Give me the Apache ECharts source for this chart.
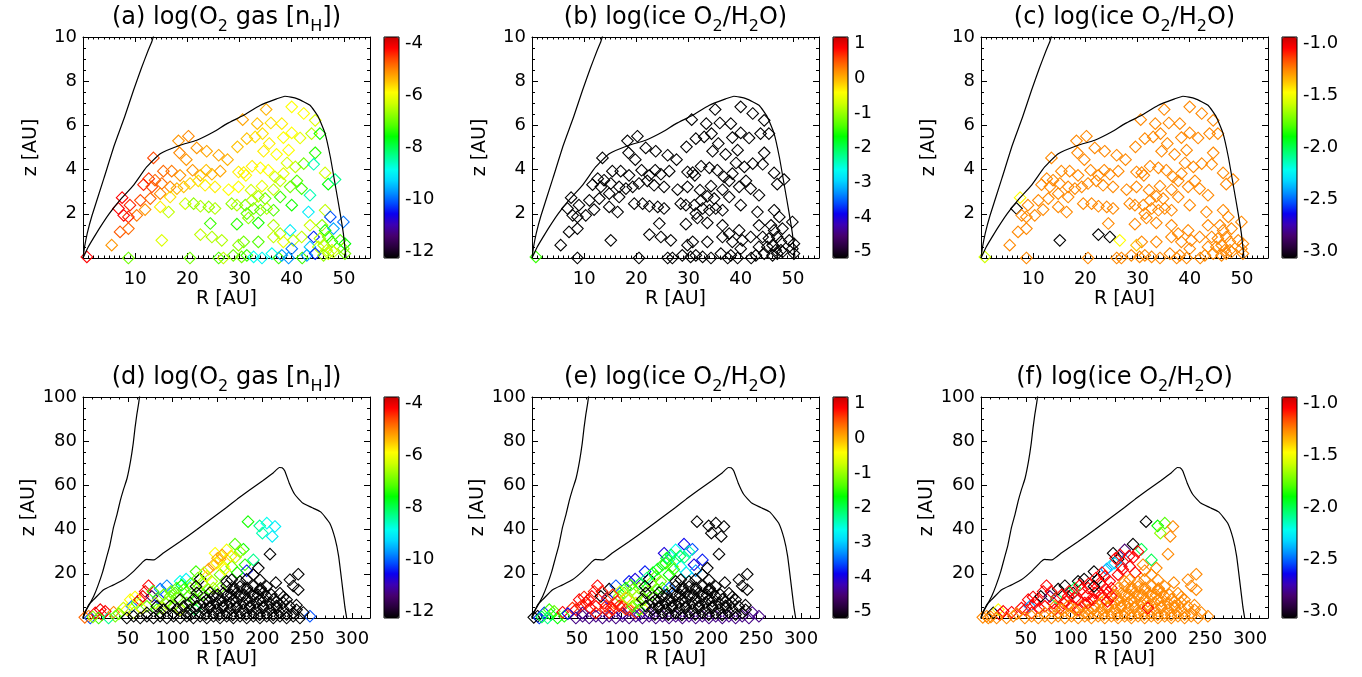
<!DOCTYPE html>
<html>
<head>
<meta charset="utf-8">
<title>O2 gas and ice</title>
<script src="https://cdn.jsdelivr.net/npm/echarts@6.0.0/dist/echarts.min.js"></script>
<style>
  html, body { margin: 0; padding: 0; background: #fff; }
  #chart { width: 1362px; height: 677px; }
</style>
</head>
<body>
<div id="chart"></div>
<script>
// ---- data: top row (inner disk, R < 55 AU) ----
var topPoints = [
  [35.1,6.72],[40.0,6.84],[42.3,6.54],[44.5,6.23],[30.6,6.26],[33.4,6.08],[36.0,6.11],[38.1,6.08],[20.2,5.51],[18.3,5.30],
  [31.4,5.40],[33.0,5.48],[34.4,5.63],[40.0,5.66],[38.4,5.45],[41.6,5.43],[43.8,5.63],[45.4,5.63],[21.8,4.98],[23.7,4.83],
  [18.5,4.76],[19.8,4.45],[26.0,4.65],[27.7,4.45],[29.6,5.03],[35.7,5.18],[34.6,4.83],[37.1,4.69],[39.4,4.88],[44.5,4.76],
  [13.5,4.53],[15.4,3.93],[17.0,3.93],[18.6,3.74],[21.0,3.97],[22.5,3.74],[23.6,3.97],[24.7,3.79],[26.3,3.93],[29.8,3.89],
  [31.2,3.74],[32.4,4.15],[34.0,4.08],[35.5,3.97],[36.8,3.67],[39.1,4.30],[40.7,4.12],[42.3,4.27],[44.2,4.24],[46.4,3.85],
  [38.4,3.82],[12.6,3.59],[30.8,3.86],[11.6,3.32],[13.2,3.22],[15.1,3.37],[16.7,3.22],[18.0,3.14],[19.3,3.22],[20.5,3.37],
  [22.1,3.49],[23.4,3.29],[25.3,3.22],[27.9,3.09],[29.8,3.22],[32.2,3.07],[34.3,3.25],[36.5,3.09],[37.8,3.49],[39.7,3.22],
  [41.0,3.49],[41.9,3.14],[47.0,3.34],[48.3,3.55],[13.8,3.52],[7.5,2.73],[6.8,2.24],[9.0,2.39],[11.0,2.61],[12.9,2.69],
  [14.8,2.91],[16.7,2.76],[14.8,2.31],[16.4,2.08],[11.9,2.19],[10.3,1.93],[7.8,1.93],[8.7,1.86],[19.6,2.46],[21.2,2.46],
  [22.5,2.34],[24.1,2.31],[25.3,2.24],[28.5,2.46],[29.5,2.39],[31.1,2.39],[32.4,2.61],[33.6,2.79],[34.9,2.69],[37.8,2.76],
  [40.0,2.39],[43.5,2.84],[32.7,2.24],[34.0,2.16],[35.2,2.24],[36.5,2.16],[31.4,2.01],[31.7,1.81],[43.2,2.08],[46.4,2.16],
  [47.4,1.86],[24.4,1.56],[29.5,1.53],[33.6,1.59],[7.1,1.18],[8.7,1.33],[36.5,1.48],[43.5,1.48],[45.8,1.48],[48.0,1.33],
  [49.9,1.63],[39.7,1.25],[37.8,1.10],[46.4,1.25],[5.5,0.58],[15.1,0.80],[22.5,1.06],[24.7,0.95],[26.6,0.80],[30.8,0.73],
  [33.6,0.73],[29.8,0.58],[36.5,0.95],[38.4,0.73],[40.3,0.80],[41.9,0.95],[44.2,0.95],[45.4,0.88],[47.0,0.95],[47.7,0.73],
  [49.3,0.80],[50.2,0.65],[43.5,0.50],[45.1,0.50],[46.7,0.35],[48.0,0.27],[49.9,0.42],[40.0,0.42],[46.1,0.58],[0.74,0.05],
  [8.7,0.0],[20.5,0.0],[26.0,0.0],[26.9,0.0],[28.8,0.12],[30.4,0.05],[31.4,0.12],[32.7,0.05],[34.3,0.0],[36.2,0.2],
  [37.5,0.0],[38.1,0.12],[39.4,0.0],[42.0,0.0],[42.9,0.12],[44.5,0.2],[46.1,0.12],[47.0,0.2],[47.7,0.35],[50.2,0.2]
];
// (a) log O2 gas
var topGas = [
  -5.5,-6.0,-6.0,-6.3,-5.4,-5.6,-5.8,-5.9,-5.2,-5.3,
  -5.6,-5.8,-5.8,-6.0,-6.0,-6.2,-6.5,-7.5,-5.3,-5.4,
  -5.2,-5.3,-5.4,-5.5,-5.6,-5.9,-5.9,-6.0,-6.0,-7.4,
  -4.8,-5.0,-5.1,-5.3,-5.3,-5.5,-5.6,-5.5,-5.4,-5.9,
  -6.0,-5.9,-6.0,-6.0,-6.4,-6.3,-6.5,-7.0,-8.5,-6.4,
  -6.2,-4.7,-5.9,-4.6,-4.8,-5.0,-5.2,-5.5,-5.6,-5.7,
  -5.8,-5.9,-5.9,-6.0,-6.0,-6.4,-6.2,-6.5,-6.5,-7.0,
  -7.2,-7.3,-7.6,-8.3,-5.0,-4.4,-4.4,-4.6,-4.8,-5.0,
  -5.2,-5.8,-5.9,-6.5,-5.3,-5.1,-4.4,-4.6,-6.4,-6.8,
  -6.6,-6.8,-6.6,-6.8,-6.6,-7.0,-6.6,-6.6,-7.0,-7.3,
  -7.5,-8.5,-7.0,-7.1,-6.6,-7.2,-7.1,-6.8,-9.0,-6.5,
  -10.0,-7.3,-7.4,-7.5,-4.9,-5.0,-6.6,-6.4,-6.8,-9.5,
  -9.8,-9.0,-6.6,-7.5,-5.3,-6.3,-6.5,-6.6,-6.6,-7.0,
  -7.2,-6.8,-6.5,-6.2,-6.5,-6.5,-10.2,-6.6,-7.0,-7.5,
  -7.2,-7.6,-9.3,-6.5,-6.4,-6.5,-6.8,-9.8,-6.6,-4.4,
  -7.0,-7.0,-7.2,-6.5,-7.0,-7.0,-7.3,-8.8,-8.9,-8.8,
  -7.3,-9.5,-9.6,-7.3,-9.5,-10.2,-6.8,-6.5,-6.4,-7.0
];
// (b) log ice O2/H2O
var topIce = [
  -5,-5,-5,-5,-5,-5,-5,-5,-5,-5,
  -5,-5,-5,-5,-5,-5,-5,-5,-5,-5,
  -5,-5,-5,-5,-5,-5,-5,-5,-5,-5,
  -5,-5,-5,-5,-5,-5,-5,-5,-5,-5,
  -5,-5,-5,-5,-5,-5,-5,-5,-5,-5,
  -5,-5,-5,-5,-5,-5,-5,-5,-5,-5,
  -5,-5,-5,-5,-5,-5,-5,-5,-5,-5,
  -5,-5,-5,-5,-5,-5,-5,-5,-5,-5,
  -5,-5,-5,-5,-5,-5,-5,-5,-5,-5,
  -5,-5,-5,-5,-5,-5,-5,-5,-5,-5,
  -5,-5,-5,-5,-5,-5,-5,-5,-5,-5,
  -5,-5,-5,-5,-5,-5,-5,-5,-5,-5,
  -5,-5,-5,-5,-5,-5,-5,-5,-5,-5,
  -5,-5,-5,-5,-5,-5,-5,-5,-5,-5,
  -5,-5,-5,-5,-5,-5,-5,-5,-5,-1.5,
  -5,-5,-5,-5,-5,-5,-5,-5,-5,-5,
  -5,-5,-5,-5,-5,-5,-5,-5,-5,-5
];
// (c) log ice O2/H2O, narrow range
var topIceZoom = [
  -1.3,-1.3,-1.3,-1.3,-1.3,-1.3,-1.3,-1.3,-1.3,-1.3,
  -1.3,-1.3,-1.3,-1.3,-1.3,-1.3,-1.3,-1.3,-1.3,-1.3,
  -1.3,-1.3,-1.3,-1.3,-1.3,-1.3,-1.3,-1.3,-1.3,-1.3,
  -1.3,-1.3,-1.3,-1.3,-1.3,-1.3,-1.3,-1.3,-1.3,-1.3,
  -1.3,-1.3,-1.3,-1.3,-1.3,-1.3,-1.3,-1.3,-1.3,-1.3,
  -1.3,-1.3,-1.3,-1.3,-1.3,-1.3,-1.3,-1.3,-1.3,-1.3,
  -1.3,-1.3,-1.3,-1.3,-1.3,-1.3,-1.3,-1.3,-1.3,-1.3,
  -1.3,-1.3,-1.3,-1.3,-1.3,-1.5,-3.0,-1.3,-1.3,-1.3,
  -1.3,-1.3,-1.3,-1.3,-1.3,-1.3,-1.3,-1.3,-1.3,-1.3,
  -1.3,-1.3,-1.3,-1.3,-1.3,-1.3,-1.3,-1.3,-1.3,-1.3,
  -1.3,-1.3,-1.3,-1.3,-1.3,-1.3,-1.3,-1.3,-1.3,-1.3,
  -1.3,-1.3,-1.3,-1.3,-1.3,-1.3,-1.3,-1.3,-1.3,-1.3,
  -1.3,-1.3,-1.3,-1.3,-1.3,-3.0,-3.0,-3.0,-1.5,-1.3,
  -1.3,-1.4,-1.3,-1.3,-1.3,-1.3,-1.3,-1.3,-1.3,-1.3,
  -1.3,-1.3,-1.3,-1.3,-1.3,-1.3,-1.3,-1.3,-1.3,-1.6,
  -1.3,-1.3,-1.3,-1.3,-1.3,-1.3,-1.3,-1.3,-1.3,-1.3,
  -1.3,-1.3,-1.3,-1.3,-1.3,-1.3,-1.3,-1.3,-1.3,-1.3
];

// ---- data: bottom row (whole disk, R < 320 AU) ----
var botPoints = [
  [6.3,0.8],[8.1,0],[13.7,2.3],[19.3,3.8],[21.1,1.5],[24.8,3.0],[17.4,0],[28.5,0],[34.1,2.6],[36.0,0.8],
  [2.0,0.3],[11.0,0.5],[49.0,3.8],[52.7,8.3],[54.5,5.3],[56.4,2.3],[60.0,6.8],[63.0,8.3],[66.7,9.8],[69.3,12.0],
  [73.0,14.6],[76.8,9.8],[84.0,9.0],[80.5,6.8],[86.0,13.1],[93.5,14.6],[71.2,5.3],[82.3,3.8],[91.6,6.8],[97.2,9.8],
  [102.7,11.3],[108.3,16.6],[115.0,17.6],[104.6,13.5],[112.0,12.8],[119.4,13.5],[100.9,5.3],[108.3,3.8],[115.7,6.8],[125.0,8.3],
  [126.0,21.0],[130.6,17.6],[125.0,3.8],[134.3,10.5],[139.8,12.8],[145.4,13.5],[152.8,13.5],[140.0,22.1],[145.4,24.0],[147.3,29.3],
  [160.2,30.8],[152.8,26.6],[149.1,24.8],[156.5,23.3],[160.2,26.3],[165.8,23.3],[169.5,33.4],[178.8,31.1],[190.0,26.3],[180.6,24.1],
  [182.5,21.4],[195.5,22.6],[132.4,15.8],[138.0,18.8],[152.8,19.6],[160.2,16.6],[143.5,16.6],[155.0,28.5],[150.0,27.0],[158.0,22.0],
  [135.0,20.5],[128.0,18.0],[120.0,15.5],[110.0,14.8],[98.0,12.0],[90.0,10.5],[95.0,7.5],[88.0,4.5],[78.0,12.0],[65.0,4.5],
  [58.0,9.5],[45.0,4.5],[40.0,2.0],[170.0,27.5],[172.0,20.5],[175.0,30.0],[165.0,28.0],[118.0,10.0],[105.0,9.0],[130.0,12.0],
  [184.0,43.6],[197.0,41.7],[205.0,42.9],[214.0,41.4],[200.0,38.4],[211.0,36.9],[208.5,28.9],[48.9,0],[56.4,0.8],[63.8,0],
  [71.2,0.8],[78.6,0],[86.0,0.8],[93.5,0],[100.9,0.8],[108.3,0],[115.7,0.8],[123.1,0],[130.6,0.8],[138.0,0],
  [145.4,0.8],[152.8,0],[160.2,0.8],[167.7,0],[175.1,0.8],[182.5,0],[189.9,0.8],[197.3,0],[204.8,0.8],[212.2,0],
  [219.6,0.8],[227.0,0],[234.4,0.8],[241.9,0],[253.0,0.8],[71.2,2.3],[86.0,2.5],[100.9,2.2],[115.7,2.4],[130.6,2.3],
  [145.4,2.4],[160.2,2.2],[175.1,2.5],[189.9,2.3],[204.8,2.2],[219.6,2.4],[234.4,2.3],[245.6,2.5],[89.8,3.8],[104.6,4.0],
  [119.4,3.7],[134.3,3.9],[149.1,3.8],[164.0,4.0],[178.8,3.7],[193.6,3.9],[208.5,3.8],[223.3,4.0],[238.1,3.7],[82.3,5.3],
  [97.2,5.5],[112.0,5.2],[126.9,5.4],[141.7,5.3],[156.5,5.5],[171.4,5.2],[186.2,5.4],[201.1,5.3],[215.9,5.5],[230.7,5.2],
  [238.0,5.8],[119.4,6.8],[134.3,7.0],[149.1,6.7],[164.0,6.9],[178.8,6.8],[193.6,7.0],[208.5,6.7],[223.3,6.9],[108.3,8.3],
  [123.1,8.5],[138.0,8.2],[152.8,8.4],[167.7,8.3],[182.5,8.5],[197.3,8.2],[212.2,8.4],[227.0,8.3],[223.3,9.5],[145.4,9.8],
  [160.2,10.0],[175.1,9.7],[189.9,9.9],[204.8,9.8],[126.9,11.3],[141.7,11.5],[156.5,11.2],[171.4,11.4],[186.2,11.3],[201.1,11.5],
  [219.6,11.2],[167.7,12.8],[182.5,13.0],[197.3,12.7],[240.0,12.8],[126.0,14.3],[160.2,14.5],[175.1,14.2],[189.9,14.4],[204.8,14.3],
  [234.4,14.5],[165.8,17.3],[182.5,17.5],[197.3,17.2],[230.7,17.3],[189.9,19.6],[240.0,19.8],[120,1.5],[137,1.6],[152,1.5],
  [167,1.4],[182,1.6],[197,1.5],[212,1.4],[227,1.6],[141,4.5],[156,4.6],[171,4.4],[186,4.5],[201,4.6],
  [216,4.4],[141,7.5],[156,7.6],[171,7.4],[186,7.5],[201,7.6],[216,7.4],[150,10.5],[165,10.6],[180,10.4],
  [195,10.5],[210,10.6],[168,13.5],[183,13.6],[198,13.4],[215,16.0],[175,16.5]
];
// (d) log O2 gas
var botGas = [
  -5.2,-10.0,-4.4,-4.3,-4.4,-4.4,-7.3,-8.3,-5.2,-7.0,
  -5.0,-6.8,-6.0,-6.0,-9.8,-6.5,-7.2,-4.4,-4.3,-4.3,
  -4.4,-11.3,-10.2,-6.6,-9.8,-9.7,-7.0,-7.2,-6.6,-7.0,
  -7.3,-8.8,-8.9,-7.1,-7.2,-6.8,-7.2,-6.5,-7.0,-7.2,
  -7.3,-12,-8.0,-7.2,-7.2,-6.6,-7.0,-5.3,-5.4,-6.0,
  -6.1,-5.5,-5.9,-6.2,-6.1,-7.0,-7.2,-7.5,-8.3,-7.4,
  -10.3,-12,-6.5,-6.0,-7.0,-12,-6.6,-5.3,-5.5,-6.0,
  -6.5,-7.0,-7.2,-7.6,-7.1,-7.0,-6.8,-6.5,-7.3,-6.2,
  -6.0,-6.4,-7.0,-6.5,-7.5,-6.8,-5.8,-7.3,-7.0,-7.1,
  -7.5,-8.3,-8.8,-9.0,-8.5,-9.0,-12,-12,-12,-12,
  -12,-12,-12,-12,-12,-12,-12,-12,-12,-12,
  -12,-12,-12,-12,-12,-12,-12,-12,-12,-12,
  -12,-12,-12,-12,-10.0,-12,-12,-12,-12,-12,
  -12,-12,-12,-12,-12,-12,-12,-12,-12,-12,
  -12,-12,-12,-12,-12,-12,-12,-12,-12,-12,
  -12,-12,-12,-12,-12,-12,-12,-12,-12,-12,
  -12,-12,-12,-12,-12,-12,-12,-12,-12,-12,
  -12,-12,-12,-12,-12,-12,-12,-12,-12,-12,
  -12,-12,-12,-12,-12,-12,-12,-12,-12,-12,
  -12,-12,-12,-12,-12,-12,-12,-12,-12,-12,
  -12,-12,-12,-12,-12,-12,-12,-12,-12,-12,
  -12,-12,-12,-12,-12,-12,-12,-12,-12,-12,
  -12,-12,-12,-12,-12,-12,-12,-12,-12,-12,
  -12,-12,-12,-12,-12,-12,-12
];
// (e) log ice O2/H2O
var botIce = [
  -5,-3.6,-3.6,-1.5,-1.8,-1.3,-2.2,-1.7,0.7,-1.6,
  -5,-2.0,0.7,0.7,0.6,-4.3,0.6,0.7,0.7,0.6,
  0.7,-5,-3.8,0.6,-5,-3.5,0.7,0.6,0.3,-1.2,
  -1.5,-3.7,-3.9,-1.7,-1.0,-1.2,0.6,0.6,-0.4,-1.3,
  -3.7,-5,-0.5,-1.4,-1.5,-1.6,-3.4,-1.9,-1.6,-3.9,
  -2.6,-2.3,-1.6,-1.3,-2.5,-2.6,-3.8,-3.5,-3.7,-3.9,
  -3.2,-5,-1.1,-1.3,-1.7,-5,-1.2,-2.0,-1.8,-1.5,
  -1.7,-2.2,-1.8,-1.4,-0.8,0.5,0.6,0.7,0.6,0.7,
  0.6,0.5,-3.8,-2.2,-2.8,-2.4,-2.0,-1.0,-0.2,-1.3,
  -5,-5,-5,-5,-5,-5,-5,-4.3,-4.3,-4.3,
  -4.3,-4.3,-4.3,-4.3,-4.3,-4.3,-4.3,-4.3,-4.3,-4.3,
  -4.3,-4.3,-4.3,-4.3,-4.3,-4.3,-4.3,-4.3,-4.3,-4.3,
  -4.3,-4.3,-4.3,-4.3,-4.3,0.6,0.6,-4.2,0.5,-4.2,
  -5,-5,-5,-5,-5,-5,-5,-4.3,0.6,0.5,
  -1.6,-5,-5,-5,-5,-5,-5,-5,-5,0.6,
  0.6,-1.4,-5,-5,-5,-5,-5,-5,-5,-5,
  -5,-1.2,-5,-5,-5,-5,-5,-5,-5,-1.0,
  -5,-5,-5,-5,-5,-5,-5,-5,-5,-5,
  -5,-5,-5,-5,-5,-5,-5,-5,-5,-5,
  -5,-5,-5,-5,-5,-5,-5,-5,-5,-5,
  -5,-5,-5,-5,-5,-5,-5,-4.2,-5,-5,
  -5,-5,-5,-5,-5,-5,-5,-5,-5,-5,
  -5,-5,-5,-5,-5,-5,-5,-5,-5,-5,
  -5,-5,-5,-5,-5,-5,-5
];
// (f) log ice O2/H2O, narrow range
var botIceZoom = [
  -1.3,-1.3,-3.0,-1.5,-1.1,-1.1,-1.3,-1.3,-1.1,-1.3,
  -1.3,-1.3,-1.1,-1.1,-2.4,-1.1,-1.1,-1.1,-3.0,-1.1,
  -1.1,-2.8,-2.0,-1.1,-3.0,-3.0,-1.1,-1.1,-1.1,-1.1,
  -3.0,-3.0,-3.0,-2.0,-1.1,-1.1,-1.1,-1.1,-1.1,-1.1,
  -3.0,-3.0,-1.3,-1.1,-1.1,-1.1,-1.3,-2.4,-2.3,-3.0,
  -2.8,-3.0,-2.3,-1.1,-2.4,-1.1,-3.0,-2.0,-2.0,-1.3,
  -1.3,-1.3,-1.1,-1.1,-1.1,-1.3,-1.1,-1.1,-1.1,-1.1,
  -1.1,-1.1,-1.1,-1.1,-1.1,-1.1,-1.1,-1.1,-1.1,-1.1,
  -1.1,-1.1,-1.3,-1.1,-1.1,-1.1,-1.1,-1.1,-1.1,-1.1,
  -3.0,-1.9,-1.8,-1.3,-1.7,-1.3,-1.3,-1.3,-1.3,-1.3,
  -1.3,-1.3,-1.3,-1.3,-1.3,-1.3,-1.3,-1.3,-1.3,-1.3,
  -1.3,-1.3,-1.3,-1.3,-1.3,-1.3,-1.3,-1.3,-1.3,-1.3,
  -1.3,-1.3,-1.3,-1.3,-1.3,-1.3,-1.3,-1.3,-1.3,-1.3,
  -1.3,-1.3,-1.3,-1.3,-1.3,-1.3,-1.3,-1.3,-1.3,-1.3,
  -1.3,-1.3,-1.3,-1.3,-1.3,-1.3,-1.3,-1.3,-1.3,-1.3,
  -1.3,-1.3,-1.3,-1.3,-1.3,-1.3,-1.3,-1.3,-1.3,-1.3,
  -1.3,-1.1,-1.3,-1.3,-1.3,-1.3,-1.3,-1.3,-1.3,-1.1,
  -1.1,-1.3,-1.3,-1.3,-1.3,-1.3,-1.3,-1.3,-1.3,-1.1,
  -1.3,-1.3,-1.3,-1.3,-1.1,-1.1,-1.3,-1.3,-1.3,-1.3,
  -1.3,-1.3,-1.3,-1.3,-1.3,-3.0,-1.3,-1.3,-1.3,-1.3,
  -1.3,-1.3,-1.3,-1.3,-1.3,-1.3,-1.3,-1.3,-1.3,-1.3,
  -1.3,-1.3,-1.3,-1.3,-1.3,-1.3,-1.3,-1.3,-1.1,-1.3,
  -1.3,-1.1,-1.3,-1.3,-1.3,-1.3,-1.3,-1.3,-1.3,-1.3,
  -1.3,-1.3,-1.3,-1.3,-1.3,-1.3,-1.3
];

// black boundary curves [R, z]
var topSteep = [[0,0],[0.3,0.5],[0.8,1.1],[1.7,1.9],[4,3.6],[6,5.1],[8,6.4],[9.7,7.6],[11.2,8.6],[12.5,9.4],[13.2,9.8],[13.6,10.1]];
var topSurface = [[0,0],[1,0.5],[2,0.9],[3.3,1.4],[5,2.0],[7,2.6],[9.7,3.3],[12.2,4.12],[14.8,4.72],[18.6,5.1],[21.8,5.33],
  [25,5.7],[27.6,6.08],[30.8,6.46],[33.9,6.9],[37.1,7.2],[38.7,7.32],[41,7.21],[43.5,6.91],[45.1,6.38],[46.4,5.63],
  [47.4,4.57],[48.3,3.36],[49.3,2.0],[49.9,1.1],[50.4,0.0]];
var botSteep = [[0,0],[3,3],[7,6],[11.8,9.7],[17,15],[22,21],[26,27],[30,33],[34,41],[38,47],[41.5,53],[45,58],
  [49,63],[53,71],[56,79],[58,86],[60,92],[62,97],[63,100],[64,103]];
var botSurface = [[0,0],[2,2.5],[5,5],[8,6.8],[11.8,8.3],[23,12.8],[34,15],[45,17.3],[56,21],[67,25.5],[71,26.5],[74,26.4],
  [79,26.3],[90,29.5],[108,34.5],[127,40],[145,45.5],[160,50],[172,53.8],[185,57.7],[200,62],[212,65.6],[219,68.1],[222,68.0],
  [225,66.5],[230,61],[236,56],[245,52],[255,50],[265,48],[275,43],[281,36],[285,28],[289,15],[292,5],[294,0]];

// colour bar ticks
var gasTicks = [-12, -10, -8, -6, -4];
var iceTicks = [-5, -4, -3, -2, -1, 0, 1];
var iceZoomTicks = [-3.0, -2.5, -2.0, -1.5, -1.0];

// rainbow colour table, bottom (black) to top (dark red)
var RAINBOW = ['#000000','#28003c','#46006e','#3c00b4','#0a00f0','#0050ff','#0098ff','#00d8ff','#00fff0','#00ffa0',
  '#00ff50','#00ff00','#50ff00','#90ff00','#d0ff00','#ffff00','#ffc000','#ff8800','#ff4800','#ff0000','#c80000'];

var FONT = 'DejaVu Sans';

var panels = [
  {title: '(a) log(O{s|2} gas [n{s|H}])', pts: topPoints, vals: topGas, ticks: gasTicks, curves: [topSteep, topSurface], top: true},
  {title: '(b) log(ice O{s|2}/H{s|2}O)', pts: topPoints, vals: topIce, ticks: iceTicks, curves: [topSteep, topSurface], top: true},
  {title: '(c) log(ice O{s|2}/H{s|2}O)', pts: topPoints, vals: topIceZoom, ticks: iceZoomTicks, curves: [topSteep, topSurface], top: true, dec: 1},
  {title: '(d) log(O{s|2} gas [n{s|H}])', pts: botPoints, vals: botGas, ticks: gasTicks, curves: [botSteep, botSurface]},
  {title: '(e) log(ice O{s|2}/H{s|2}O)', pts: botPoints, vals: botIce, ticks: iceTicks, curves: [botSteep, botSurface]},
  {title: '(f) log(ice O{s|2}/H{s|2}O)', pts: botPoints, vals: botIceZoom, ticks: iceZoomTicks, curves: [botSteep, botSurface], dec: 1}
];

var lefts = [83, 532, 981];
var tops = [37, 397];
var W = 287, H = 221;
var CBW = 15, CBGAP = 301;

function diamond(params, api) {
  var p = api.coord([api.value(0), api.value(1)]);
  var h = 5.8;
  return {
    type: 'polygon',
    shape: {points: [[p[0], p[1] - h], [p[0] + h, p[1]], [p[0], p[1] + h], [p[0] - h, p[1]]]},
    style: {fill: 'none', stroke: api.visual('color'), lineWidth: 1.1}
  };
}

function frameAxis(gi, pos, range, step, minor, tickLen, label, name, nameGap) {
  var vertical = pos === 'left' || pos === 'right';
  return {
    gridIndex: gi, type: 'value', position: pos,
    min: range[0], max: range[1], interval: step,
    axisLine: {onZero: false, lineStyle: {color: '#000', width: 1}},
    axisTick: {inside: true, length: tickLen, lineStyle: {color: '#000', width: 1}},
    minorTick: {show: true, splitNumber: minor, length: tickLen / 2, lineStyle: {color: '#000', width: 1}},
    splitLine: {show: false},
    axisLabel: {show: label, color: '#000', fontFamily: FONT, fontSize: 18,
      margin: vertical ? 6 : 12, showMinLabel: false, showMaxLabel: vertical},
    name: name || '', nameLocation: 'middle', nameGap: nameGap || 0,
    nameTextStyle: {color: '#000', fontFamily: FONT, fontSize: 19}
  };
}

var grid = [], xAxis = [], yAxis = [], series = [], visualMap = [], title = [], graphic = [];

panels.forEach(function (p, i) {
  var L = lefts[i % 3], T = tops[Math.floor(i / 3)];
  var cbL = L + CBGAP;
  var g = grid.length, ax = xAxis.length;
  var xr = p.top ? [0, 55] : [0, 320], xs = p.top ? 10 : 50, xm = p.top ? 10 : 5;
  var yr = p.top ? [0, 10] : [0, 100], ys = p.top ? 2 : 20;

  grid.push({left: L, top: T, width: W, height: H, containLabel: false, outerBoundsMode: 'none'});
  grid.push({left: cbL, top: T + 6.5, width: CBW, height: H - 13, containLabel: false, outerBoundsMode: 'none'});

  xAxis.push(frameAxis(g, 'bottom', xr, xs, xm, 5, true, 'R [AU]', 32));
  xAxis.push(frameAxis(g, 'top', xr, xs, xm, 5, false));
  xAxis.push({gridIndex: g + 1, type: 'value', show: false});

  yAxis.push(frameAxis(g, 'left', yr, ys, 4, 6, true, 'z [AU]', 42));
  yAxis.push(frameAxis(g, 'right', yr, ys, 4, 6, false));
  var t = p.ticks, dec = p.dec || 0;
  yAxis.push({
    gridIndex: g + 1, type: 'value', position: 'right',
    min: t[0], max: t[t.length - 1], interval: t[1] - t[0],
    axisLine: {show: false}, axisTick: {show: false}, splitLine: {show: false},
    axisLabel: {color: '#000', fontFamily: FONT, fontSize: 18, margin: 6,
      formatter: function (v) { return v.toFixed(dec); }}
  });

  series.push({
    type: 'custom', xAxisIndex: ax, yAxisIndex: ax, silent: true, z: 2,
    data: p.pts.map(function (q, k) { return [q[0], q[1], p.vals[k]]; }),
    encode: {x: 0, y: 1}, renderItem: diamond
  });
  visualMap.push({
    type: 'continuous', seriesIndex: series.length - 1, dimension: 2,
    min: t[0], max: t[t.length - 1], inRange: {color: RAINBOW},
    calculable: false, hoverLink: false, orient: 'vertical',
    left: cbL, top: T, itemWidth: CBW, itemHeight: H, padding: 0
  });
  p.curves.forEach(function (c) {
    series.push({
      type: 'line', xAxisIndex: ax, yAxisIndex: ax, data: c, silent: true, z: 3,
      symbol: 'none', showSymbol: false, smooth: 0.15, lineStyle: {color: '#000', width: 1.2}
    });
  });

  title.push({
    text: p.title, left: L + W / 2, top: T - 36, textAlign: 'center', padding: 0,
    textStyle: {
      color: '#000', fontFamily: FONT, fontSize: 24, fontWeight: 'normal', lineHeight: 34,
      rich: {s: {color: '#000', fontFamily: FONT, fontSize: 16, verticalAlign: 'bottom'}}
    }
  });
  graphic.push({
    type: 'rect', silent: true, z: 100,
    shape: {x: cbL, y: T, width: CBW, height: H},
    style: {fill: 'none', stroke: '#000', lineWidth: 1}
  });
});

var chart = echarts.init(document.getElementById('chart'), null, {renderer: 'canvas'});
chart.setOption({
  animation: false,
  backgroundColor: '#fff',
  title: title,
  grid: grid,
  xAxis: xAxis,
  yAxis: yAxis,
  visualMap: visualMap,
  graphic: graphic,
  series: series
});
</script>
</body>
</html>
